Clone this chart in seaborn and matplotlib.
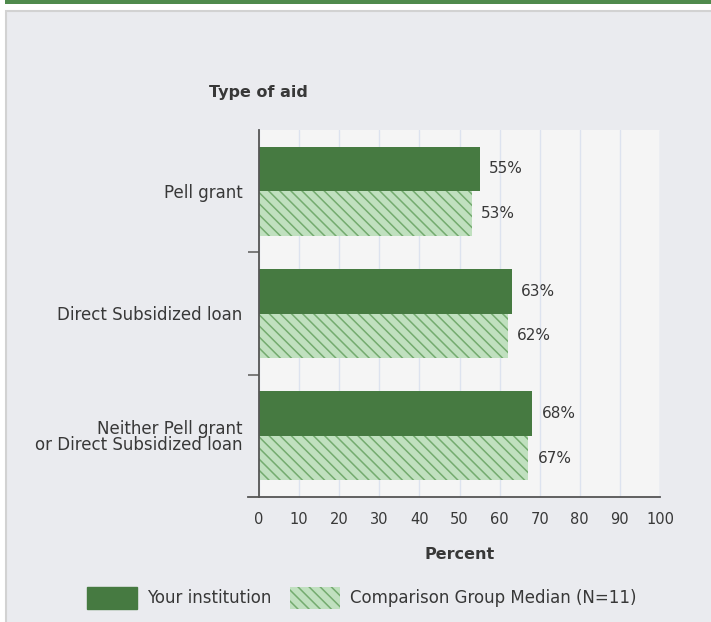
import matplotlib
matplotlib.use("Agg")
import matplotlib.pyplot as plt
import seaborn as sns
import pandas as pd
from matplotlib.patches import Rectangle, Patch

categories = ["Pell grant", "Direct Subsidized loan", "Neither Pell grant\nor Direct Subsidized loan"]
series = ["Your institution", "Comparison Group Median (N=11)"]
your_inst = [55, 63, 68]
comparison = [53, 62, 67]
xticks = [0, 10, 20, 30, 40, 50, 60, 70, 80, 90, 100]

sns.set_theme(style="white")
plt.rcParams['font.family'] = ['DejaVu Sans']
plt.rcParams['hatch.linewidth'] = 1.1

df = pd.DataFrame({
    "cat": categories * 2,
    "series": [series[0]] * 3 + [series[1]] * 3,
    "val": your_inst + comparison,
})

DARK = "#467a41"
LIGHT = "#c0e0bf"
HATCH = "#74ab6f"
TXT = "#383838"

fig = plt.figure(figsize=(7.11, 6.22), dpi=100)
fig.patch.set_facecolor("white")
# outer panel
fig.add_artist(Rectangle((6/711, -0.01), 710/711, 1 - 11/622 + 0.01, transform=fig.transFigure,
                         facecolor="#eaebef", edgecolor="#d2d2d2", linewidth=1.5, zorder=0))
fig.add_artist(Rectangle((5/711, 1 - 4/622), 706/711, 4/622, transform=fig.transFigure,
                         facecolor="#4f8a4c", edgecolor="none", zorder=0))

ax = fig.add_axes([259/711, 1 - 497/622, 401/711, 367/622])
ax.set_facecolor("#f5f5f5")

sns.barplot(data=df, y="cat", x="val", hue="series", orient="h", ax=ax,
            palette=[DARK, LIGHT], width=0.73, dodge=True, legend=False,
            saturation=1, gap=0)

for bar, s in zip(ax.patches, [0]*3 + [1]*3):
    if s == 1:
        bar.set_hatch("\\\\\\")
        bar.set_edgecolor(HATCH)
        bar.set_linewidth(0)
    else:
        bar.set_edgecolor(DARK)
        bar.set_linewidth(0)

for cont in ax.containers:
    ax.bar_label(cont, labels=[f"{v:.0f}%" for v in cont.datavalues], padding=7,
                 fontsize=11, color=TXT)

ax.set_xlim(0, 100)
ax.set_ylim(2.5, -0.5)
ax.set_xticks(xticks)
ax.set_xticklabels([str(t) for t in xticks], fontsize=10.5, color=TXT)
ax.tick_params(axis="x", length=0, pad=11)
ax.set_yticks(range(3))
ax.set_yticklabels(categories, fontsize=12, color=TXT, linespacing=0.88)
ax.tick_params(axis="y", which="major", length=0, pad=12)
ax.set_yticks([0.5, 1.5], minor=True)
ax.tick_params(axis="y", which="minor", left=True, length=8, width=1.2, color="#666666")
ax.grid(axis="x", color="#dde3ef", linewidth=1)
ax.set_axisbelow(True)
for s in ["top", "right"]:
    ax.spines[s].set_visible(False)
ax.spines["left"].set_color("#555555")
ax.spines["bottom"].set_color("#555555")
ax.spines["left"].set_linewidth(1.3)
ax.spines["bottom"].set_linewidth(1.3)
ax.spines["bottom"].set_bounds(-2.75, 100)
ax.axvline(100, color="#dde3ef", linewidth=1, zorder=0)
ax.set_xlabel("Percent", fontsize=11.5, color=TXT, fontweight="bold", labelpad=14)
ax.set_ylabel("")

fig.text(258/711, 1 - 93/622, "Type of aid", ha="center", va="center",
         fontsize=11.5, fontweight="bold", color=TXT)

handles = [Patch(facecolor=DARK, edgecolor=DARK),
           Patch(facecolor=LIGHT, edgecolor=HATCH, hatch="\\\\\\", linewidth=0)]
fig.legend(handles, series, loc="center", bbox_to_anchor=(362/711, 1 - 598/622),
           ncol=2, frameon=False, fontsize=12, handlelength=3.0, handleheight=1.7,
           columnspacing=1.1, handletextpad=0.6, labelcolor=TXT)

fig.savefig("out.png", dpi=100)
